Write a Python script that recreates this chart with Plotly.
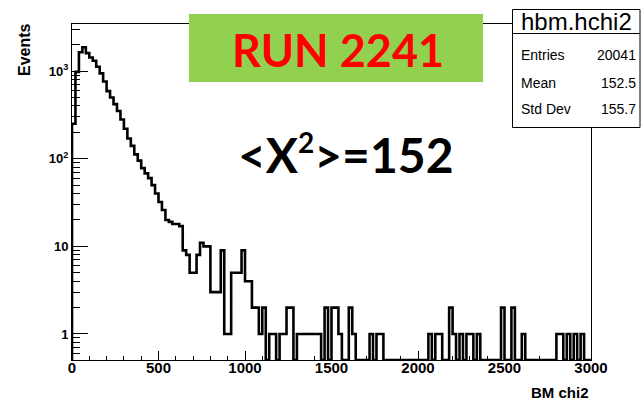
import numpy as np
import plotly.graph_objects as go

# ---- histogram hbm.hchi2 : 150 bins of width 20 over [0, 3000] ----
bin_width = 20
x_min, x_max = 0, 3000
counts = [
    250, 980, 1640, 1870, 1600, 1430, 1310, 1120, 940, 760,     # 0-199
    590, 500, 420, 350, 280, 220, 170, 140, 112, 95,            # 200-399
    78, 68, 60, 50, 40, 32, 26, 20, 19, 18,                     # 400-599
    18, 17, 9, 8, 5, 5, 8, 11, 10, 10,                          # 600-799
    3, 3, 3, 9, 1, 1, 5, 5, 5, 9,                               # 800-999
    4, 4, 2, 2, 1, 2, 0, 1, 1, 0,                               # 1000-1199
    1, 1, 2, 2, 0, 1, 1, 1, 1, 1,                               # 1200-1399
    1, 1, 0, 2, 0, 2, 2, 1, 0, 0,                               # 1400-1599
    2, 1, 0, 0, 0, 0, 1, 0, 1, 1,                               # 1600-1799
    0, 0, 0, 0, 0, 0, 0, 0, 0, 0,                               # 1800-1999
    0, 0, 0, 1, 0, 1, 1, 0, 0, 2,                               # 2000-2199
    1, 0, 1, 0, 1, 1, 0, 1, 0, 0,                               # 2200-2399
    0, 0, 0, 0, 2, 0, 0, 2, 0, 0,                               # 2400-2599
    1, 0, 0, 0, 0, 0, 0, 0, 0, 0,                               # 2600-2799
    1, 1, 0, 1, 0, 1, 0, 1, 0, 0,                               # 2800-2999
]

x_ticks = [0, 500, 1000, 1500, 2000, 2500, 3000]
x_minor = [v for v in range(100, 3000, 100) if v % 500]
y_ticks = [1, 10, 100, 1000]
y_tick_text = ["1", "10", "10<sup>2</sup>", "10<sup>3</sup>"]
y_minor = [0.6, 0.7, 0.8, 0.9] + [m * d for d in (1, 10, 100) for m in range(2, 10)] + [2000, 3000]
y_log_range = [-0.297, 3.537]

hist_name = "hbm.hchi2"
stats_labels = ["Entries", "Mean", "Std Dev"]
stats_values = ["20041", "152.5", "155.7"]
run_label = "RUN 2241"
mean_label = "&lt;X<sup><span style='font-size:28px'>2</span></sup>&gt;=152"
x_title = "BM chi2"
y_title = "Events"

# ---- step outline, ROOT style: empty bins sit on the lower frame ----
counts = np.array(counts, dtype=float)
edges = np.arange(x_min, x_max + bin_width, bin_width)
floor = 10 ** y_log_range[0]
heights = np.where(counts > 0, counts, floor)
xs = np.concatenate([[edges[0]], edges[:-1], [edges[-1], edges[-1]]])
ys = np.concatenate([[floor], heights, [heights[-1], floor]])

W, H = 641, 404
L, R, T, B = 72, 591, 24, 360


def px(x):
    return (x - L) / (R - L)


def py(y):
    return (B - y) / (B - T)


FONT = "Liberation Sans, Arial, sans-serif"

fig = go.Figure()
fig.add_trace(go.Scatter(
    x=xs, y=ys, mode="lines", line=dict(color="black", width=2.6, shape="hv"),
    hoverinfo="skip", showlegend=False,
))

fig.update_layout(
    width=W, height=H,
    margin=dict(l=L, r=W - R, t=T, b=H - B, pad=0),
    paper_bgcolor="white", plot_bgcolor="white",
    showlegend=False,
    font=dict(family=FONT, color="black"),
)

fig.update_xaxes(
    range=[x_min, x_max], showgrid=False, zeroline=False,
    showline=True, mirror=True, linecolor="black", linewidth=1,
    ticks="inside", ticklen=9, tickwidth=1, tickcolor="black",
    tickmode="array", tickvals=x_ticks, ticktext=[str(v) for v in x_ticks],
    tickfont=dict(family=FONT, size=15, color="black", weight="bold"),
    ticklabelstandoff=-6,
    minor=dict(ticks="inside", ticklen=4.5, tickwidth=1, tickcolor="black",
               tickmode="array", tickvals=x_minor),
)
fig.update_yaxes(
    type="log", range=y_log_range, showgrid=False, zeroline=False,
    showline=True, mirror=True, linecolor="black", linewidth=1,
    ticks="inside", ticklen=16, tickwidth=1, tickcolor="black",
    tickmode="array", tickvals=y_ticks, ticktext=y_tick_text,
    tickfont=dict(family=FONT, size=13, color="black", weight="bold"),
    minor=dict(ticks="inside", ticklen=8, tickwidth=1, tickcolor="black",
               tickmode="array", tickvals=y_minor),
)

shapes = [
    # statistics box
    dict(type="rect", xref="paper", yref="paper", layer="above",
         x0=px(512.5), x1=px(640), y0=py(127.5), y1=py(9.5),
         fillcolor="white", line=dict(color="black", width=1)),
    dict(type="line", xref="paper", yref="paper", layer="above",
         x0=px(512.5), x1=px(640), y0=py(33.5), y1=py(33.5),
         line=dict(color="black", width=1)),
    # run banner
    dict(type="rect", xref="paper", yref="paper", layer="above",
         x0=px(189), x1=px(483), y0=py(82), y1=py(14),
         fillcolor="#92D050", line=dict(width=0)),
]
fig.update_layout(shapes=shapes)

ann = []
ann.append(dict(text=hist_name, x=px(576.5), y=py(21.5), xanchor="center", yanchor="middle",
                font=dict(family=FONT, size=24, color="black")))
for i, (lab, val) in enumerate(zip(stats_labels, stats_values)):
    yy = [55, 83, 108.5][i]
    ann.append(dict(text=lab, x=px(519.5), y=py(yy), xanchor="left", yanchor="middle",
                    font=dict(family=FONT, size=14, color="black")))
    ann.append(dict(text=val, x=px(637), y=py(yy), xanchor="right", yanchor="middle",
                    font=dict(family=FONT, size=14, color="black")))
ann.append(dict(text=run_label, x=px(337.5), y=py(50), xanchor="center", yanchor="middle",
                font=dict(family="Lato, sans-serif", size=45, color="#FF0000", weight="bold")))
ann.append(dict(text=mean_label, x=px(345), y=py(154), xanchor="center", yanchor="middle",
                font=dict(family="Lato, sans-serif", size=48, color="black", weight="bold")))
ann.append(dict(text=y_title, x=px(24.5), y=py(49.5), xanchor="center", yanchor="middle",
                textangle=-90, font=dict(family=FONT, size=16, color="black", weight="bold")))
ann.append(dict(text=x_title, x=px(590), y=py(392.5), xanchor="right", yanchor="middle",
                font=dict(family=FONT, size=15, color="black", weight="bold")))
for a in ann:
    a.update(xref="paper", yref="paper", showarrow=False, borderpad=0)
fig.update_layout(annotations=ann)

fig.write_html("out.html")
